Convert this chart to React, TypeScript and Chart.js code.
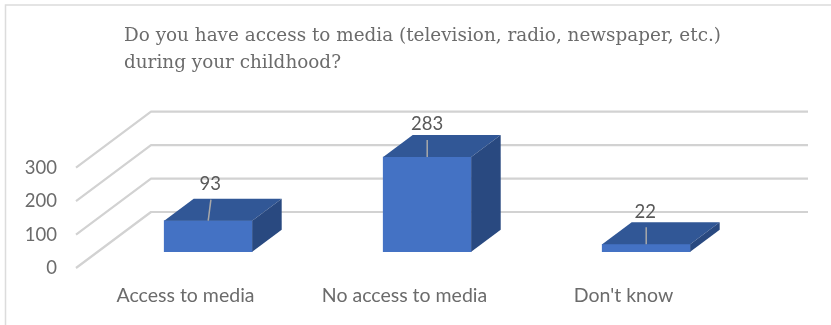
import React, { useEffect, useRef } from "react";
import { Chart, registerables } from "chart.js";

Chart.register(...registerables);

const categories = ["Access to media", "No access to media", "Don't know"];
const responses = [93, 283, 22];
const valueTicks = [0, 100, 200, 300];
const titleLines = [
  "Do you have access to media (television, radio, newspaper, etc.)",
  "during your childhood?",
];

const TEXT = "#6b6b6b";
const FRONT = "#4472c4";
const TOP = "#315796";
const SIDE = "#294980";
const GRID = "#d2d2d2";
const LEADER = "#a9a9a9";

// Projection of the box depth and of the floor depth, in pixels.
const FLOOR_DX = 75;
const FLOOR_DY = -56;
const BOX_DX = 29.5;
const BOX_DY = -22;
const WALL_RIGHT_EXTRA = 75;

// Value-label placement per bar: label centre and leader top relative to the front-top centre.
const labelOffsets = [
  { dx: 2, dy: -37, leadDx: 2.7, leadDy: -21 },
  { dx: 0, dy: -33, leadDx: 0, leadDy: -17 },
  { dx: -1, dy: -32, leadDx: 0, leadDy: -17 },
];

const box3d = {
  id: "box3d",
  beforeDatasetsDraw(chart: any) {
    const { ctx, chartArea } = chart;
    const yScale = chart.scales.y;
    ctx.save();
    ctx.strokeStyle = GRID;
    ctx.lineWidth = 2.2;
    ctx.lineJoin = "round";
    valueTicks.forEach((v) => {
      const y = yScale.getPixelForValue(v);
      ctx.beginPath();
      ctx.moveTo(chartArea.left, y);
      ctx.lineTo(chartArea.left + FLOOR_DX, y + FLOOR_DY);
      ctx.lineTo(chartArea.right + WALL_RIGHT_EXTRA, y + FLOOR_DY);
      ctx.stroke();
    });
    ctx.restore();
  },
  afterDatasetsDraw(chart: any) {
    const { ctx } = chart;
    const bars = chart.getDatasetMeta(0).data;
    ctx.save();
    bars.forEach((bar: any, i: number) => {
      const left = bar.x - bar.width / 2;
      const right = bar.x + bar.width / 2;
      const top = bar.y;
      const bottom = bar.base;

      ctx.fillStyle = TOP;
      ctx.beginPath();
      ctx.moveTo(left, top);
      ctx.lineTo(left + BOX_DX, top + BOX_DY);
      ctx.lineTo(right + BOX_DX, top + BOX_DY);
      ctx.lineTo(right, top);
      ctx.closePath();
      ctx.fill();

      ctx.fillStyle = SIDE;
      ctx.beginPath();
      ctx.moveTo(right, top);
      ctx.lineTo(right + BOX_DX, top + BOX_DY);
      ctx.lineTo(right + BOX_DX, bottom + BOX_DY);
      ctx.lineTo(right, bottom);
      ctx.closePath();
      ctx.fill();

      const o = labelOffsets[i];
      ctx.strokeStyle = LEADER;
      ctx.lineWidth = 1.5;
      ctx.beginPath();
      ctx.moveTo(bar.x, top);
      ctx.lineTo(bar.x + o.leadDx, top + o.leadDy);
      ctx.stroke();

      ctx.fillStyle = "#595959";
      ctx.font = "18.5px Lato";
      ctx.textAlign = "center";
      ctx.textBaseline = "middle";
      ctx.fillText(String(responses[i]), bar.x + o.dx, top + o.dy);
    });
    ctx.restore();
  },
  afterDraw(chart: any) {
    const { ctx } = chart;
    ctx.save();
    // Frame along the left and top edges.
    ctx.strokeStyle = "#dcdcdc";
    ctx.lineWidth = 1.5;
    ctx.beginPath();
    ctx.moveTo(5.5, 325);
    ctx.lineTo(5.5, 5);
    ctx.lineTo(831, 5);
    ctx.stroke();
    // Heading.
    ctx.fillStyle = TEXT;
    ctx.font = "18.4px 'DejaVu Serif'";
    ctx.textAlign = "left";
    ctx.textBaseline = "alphabetic";
    titleLines.forEach((line, i) => ctx.fillText(line, 124, 41 + i * 27));
    ctx.restore();
  },
};

export default function App() {
  const ref = useRef<HTMLCanvasElement>(null);

  useEffect(() => {
    const chart = new Chart(ref.current!, {
      type: "bar",
      data: {
        labels: categories,
        datasets: [
          {
            label: "Responses",
            data: responses.map((v, i) => ({ x: i, y: v })),
            xAxisID: "xBars",
            yAxisID: "yBars",
            backgroundColor: FRONT,
            barThickness: 88,
          },
        ],
      } as any,
      options: {
        responsive: false,
        animation: false,
        layout: { padding: { right: 98, top: 111 } },
        plugins: { legend: { display: false }, tooltip: { enabled: false } },
        scales: {
          x: {
            type: "category",
            grid: { display: false },
            border: { display: false },
            ticks: { color: TEXT, font: { family: "Lato", size: 19.5 }, padding: 8, maxRotation: 0 },
            afterFit: (s: any) => {
              s.height = 57;
            },
          },
          xBars: {
            type: "linear",
            display: false,
            offset: false,
            min: -0.6037,
            max: 2.3963,
          },
          y: {
            min: 0,
            max: 469.6,
            grid: { display: false },
            border: { display: false },
            afterBuildTicks: (s: any) => {
              s.ticks = valueTicks.map((value) => ({ value }));
            },
            ticks: { color: TEXT, font: { family: "Lato", size: 18.5 }, padding: 11 },
            afterFit: (s: any) => {
              s.width = 76;
            },
          },
          yBars: {
            display: false,
            min: -48.7,
            max: 420.9,
          },
        },
      } as any,
      plugins: [box3d],
    });
    return () => chart.destroy();
  }, []);

  return (
    <div style={{ position: "absolute", left: 0, top: 0, width: 831, height: 325, background: "#fff" }}>
      <canvas ref={ref} width={831} height={325} style={{ display: "block" }} />
    </div>
  );
}
